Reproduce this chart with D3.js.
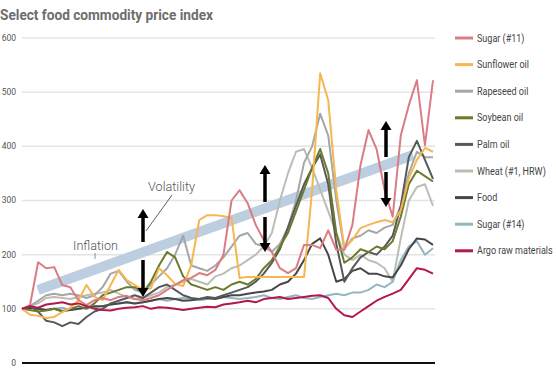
<!DOCTYPE html>
<html><head><meta charset="utf-8">
<script src="https://cdn.jsdelivr.net/npm/d3@7"></script>
<style>
html,body{margin:0;padding:0;background:#fff;}
svg{display:block;font-family:Roboto,"Noto Sans",sans-serif;}
</style></head>
<body><svg id="c" width="556" height="370"></svg>
<script>
const title = "Select food commodity price index";
const yTicks = [0,100,200,300,400,500,600];
const periods = d3.range(52);

const sugar11   = [100,107,186,175,177,144,140,116,107,116,120,116,122,124,118,116,120,125,135,144,153,157,166,162,172,200,300,319,295,255,227,205,175,166,175,218,218,212,245,209,209,255,365,430,395,319,270,420,476,522,402,522];
const sunflower = [100,89,87,83,85,94,102,116,144,122,116,144,172,153,144,135,138,175,162,146,142,181,264,273,273,271,268,157,159,159,159,159,159,159,159,159,320,535,485,319,212,227,249,255,260,264,260,282,341,375,397,390];
const rapeseed  = [100,105,115,125,128,125,128,125,120,125,140,165,170,150,135,130,145,160,175,200,235,180,175,170,180,195,215,235,240,220,215,205,220,250,300,370,400,460,420,300,210,230,235,245,240,250,255,290,350,390,380,380];
const soybean   = [100,98,95,97,100,95,100,105,100,110,125,130,135,140,140,130,150,180,205,195,160,145,140,135,140,135,145,150,145,155,175,190,215,240,280,320,360,395,350,240,185,195,210,205,215,210,225,270,330,355,345,335];
const palm      = [100,105,95,78,75,68,75,72,85,95,100,110,115,120,125,120,130,140,145,135,125,120,118,122,120,125,130,135,140,150,165,185,210,250,290,330,360,385,330,220,150,175,195,205,200,215,235,290,380,410,375,340];
const wheat     = [100,105,110,120,122,120,118,122,125,128,130,135,128,122,118,120,125,130,140,145,150,155,150,145,160,165,175,180,190,200,215,240,300,350,390,395,360,320,280,240,200,190,200,190,185,175,150,230,300,325,330,290];
const food      = [100,102,100,98,100,96,98,100,102,105,105,108,110,112,110,112,115,118,120,118,115,116,118,120,118,122,125,125,128,130,132,135,145,150,165,190,220,230,200,150,155,170,175,165,165,160,158,180,210,230,228,218];
const sugar14   = [100,102,100,98,100,102,98,100,105,103,105,108,110,112,110,112,115,118,115,118,120,118,116,118,120,122,120,118,120,122,125,120,118,122,125,120,118,122,125,128,125,130,130,135,145,140,150,190,215,225,200,212];
const argo      = [100,105,102,108,110,112,108,110,105,100,98,97,100,102,103,105,100,103,102,100,98,100,102,104,103,108,110,112,115,112,118,120,122,118,120,122,124,125,120,100,88,85,95,105,115,122,128,135,155,175,172,165];

const seriesNames  = ["Sugar (#11)","Sunflower oil","Rapeseed oil","Soybean oil","Palm oil","Wheat (#1, HRW)","Food","Sugar (#14)","Argo raw materials"];
const seriesValues = [sugar11,sunflower,rapeseed,soybean,palm,wheat,food,sugar14,argo];
const seriesColors = ["#da7c84","#f6b650","#a6a6a6","#6b7a2c","#585858","#bcbdb3","#474747","#95b6c1","#b3184c"];
const drawOrder = [5,2,7,6,4,3,1,0,8];

const annotations = [{text:"Inflation"},{text:"Volatility"}];

const svg = d3.select("#c");
const x = d3.scaleLinear().domain([0, periods.length-1]).range([22, 433]);
const y = d3.scaleLinear().domain([0, 600]).range([363, 38]);

// title
svg.append("text").attr("x",0).attr("y",20).text(title)
  .attr("font-size",14.5).attr("font-weight",700).attr("fill","#6e6e6e")
  .attr("textLength",213).attr("lengthAdjust","spacingAndGlyphs");

// grid
const g = svg.append("g");
g.selectAll("line.grid").data(yTicks.filter(d=>d>0)).join("line")
  .attr("x1",22).attr("x2",435).attr("y1",d=>y(d)).attr("y2",d=>y(d))
  .attr("stroke","#e4e4e4").attr("stroke-width",1.5);
g.append("line").attr("x1",22).attr("x2",435).attr("y1",y(0)).attr("y2",y(0))
  .attr("stroke","#111").attr("stroke-width",2);
g.selectAll("text.tick").data(yTicks).join("text")
  .attr("x",16).attr("y",d=>y(d)).attr("dy","0.35em").attr("text-anchor","end")
  .attr("font-size",8.5).attr("fill","#555").text(d=>d);

// inflation band
const bandStart = [2, 100], bandEnd = [48.7, 385];
const bx0 = 38, by0 = 290, bx1 = 413, by1 = 155;
svg.append("line").attr("x1",bx0).attr("y1",by0).attr("x2",bx1).attr("y2",by1)
  .attr("stroke","#bccee0").attr("stroke-width",10).attr("stroke-linecap","butt");

// lines
const line = d3.line().x((d,i)=>x(periods[i])).y(d=>y(d));
drawOrder.forEach(k=>{
  svg.append("path").datum(seriesValues[k]).attr("d",line)
    .attr("fill","none").attr("stroke",seriesColors[k]).attr("stroke-width",2)
    .attr("stroke-linejoin","round");
});

// annotation texts
svg.append("text").attr("x",73).attr("y",250).text(annotations[0].text)
  .attr("font-size",13).attr("fill","#555").attr("font-weight",300)
  .attr("textLength",45).attr("lengthAdjust","spacingAndGlyphs");
svg.append("line").attr("x1",95).attr("y1",253).attr("x2",95).attr("y2",259)
  .attr("stroke","#777").attr("stroke-width",0.8);
svg.append("text").attr("x",148).attr("y",191).text(annotations[1].text)
  .attr("font-size",13).attr("fill","#555").attr("font-weight",300)
  .attr("textLength",47).attr("lengthAdjust","spacingAndGlyphs");
svg.append("line").attr("x1",172).attr("y1",195).attr("x2",146).attr("y2",231)
  .attr("stroke","#333").attr("stroke-width",0.8);

// volatility arrows
const arrows = [[143,209,242,260,297],[265,165,202,217,252],[386,121,157,172,207]];
function arrow(xp, tip, tail, up){
  const h = 9, w = 5.5;
  const dir = up ? 1 : -1;
  svg.append("line").attr("x1",xp).attr("x2",xp)
    .attr("y1",tip + dir*h - dir*1).attr("y2",tail)
    .attr("stroke","#000").attr("stroke-width",3.5);
  svg.append("path").attr("d",`M${xp},${tip}L${xp-w},${tip+dir*h}L${xp+w},${tip+dir*h}Z`).attr("fill","#000");
}
arrows.forEach(a=>{ arrow(a[0],a[1],a[2],true); arrow(a[0],a[4],a[3],false); });

// legend
const leg = svg.append("g");
seriesNames.forEach((n,i)=>{
  const yy = 38 + i*26.6;
  leg.append("line").attr("x1",455).attr("x2",473).attr("y1",yy).attr("y2",yy)
    .attr("stroke",seriesColors[i]).attr("stroke-width",3);
  leg.append("text").attr("transform",`translate(477,${yy}) scale(0.86,1)`)
    .attr("dy","0.35em").attr("font-size",10.5).attr("fill","#444").text(n);
});
</script></body></html>
